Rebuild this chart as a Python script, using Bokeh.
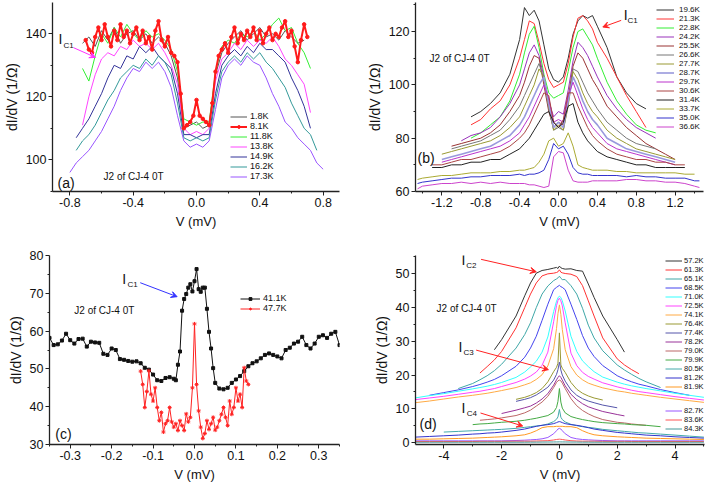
import numpy as np
from bokeh.plotting import figure
from bokeh.layouts import row, column
from bokeh.models import Legend, LegendItem, Label, Arrow, VeeHead, FixedTicker, Range1d
from bokeh.embed import file_html
from bokeh.resources import INLINE

N = None
FONT = "Liberation Sans"

# ======================= Panel (a) data =======================
a_x = [-0.80,-0.76,-0.72,-0.68,-0.64,-0.60,-0.56,-0.52,-0.48,-0.44,-0.40,-0.36,-0.32,-0.28,-0.24,-0.20,-0.16,-0.12,-0.08,-0.04,
       0.00,0.04,0.08,0.12,0.16,0.20,0.24,0.28,0.32,0.36,0.40,0.44,0.48,0.52,0.56,0.60,0.64,0.68,0.72,0.76,0.80]
a_x_red = [-0.70,-0.68,-0.66,-0.64,-0.62,-0.60,-0.58,-0.56,-0.54,-0.52,-0.50,-0.48,-0.46,-0.44,-0.42,-0.40,-0.38,-0.36,-0.34,-0.32,
           -0.30,-0.28,-0.26,-0.24,-0.22,-0.20,-0.18,-0.16,-0.14,-0.12,-0.10,-0.08,-0.06,-0.04,-0.02,0.00,0.02,0.04,0.06,0.08,
           0.10,0.12,0.14,0.16,0.18,0.20,0.22,0.24,0.26,0.28,0.30,0.32,0.34,0.36,0.38,0.40,0.42,0.44,0.46,0.48,0.50,0.52,0.54,
           0.56,0.58,0.60,0.62,0.64,0.66,0.68,0.70]
a_labels = ["1.8K", "8.1K", "11.8K", "13.8K", "14.9K", "16.2K", "17.3K"]
a_colors = ["#555555", "#ff1a1a", "#33ee33", "#ff44ff", "#333399", "#339999", "#9955ff"]
a_1p8K = [N,N,137,139,136,141,138,142,137,140,141,138,140,137,139,137,133,126,110,111,112,110,111,127,134,137,139,141,138,140,142,139,140,138,141,139,137,138,N,N,N]
a_8p1K = [138,135,134,139,142,138,143,139,136,141,138,143,139,141,137,140,142,138,141,137,139,135,141,144,138,136,139,134,133,131,
          121,110,111,112,114,119,114,113,112,111,118,128,133,135,137,134,139,142,137,140,138,141,139,142,138,141,137,140,142,138,
          140,139,142,144,139,141,136,131,138,143,139]
a_11p8K = [N,N,129,125,133,140,137,142,139,143,140,138,141,139,140,138,135,128,113,112,111,112,112,128,136,138,137,140,139,141,138,140,143,145,141,142,137,134,129,N,N]
a_13p8K = [N,N,111,120,127,132,134,133,136,135,138,136,137,135,137,134,130,124,110,108,109,108,110,125,132,134,137,135,138,136,138,137,139,136,132,130,127,124,115,N,N]
a_14p9K = [N,107,110,113,117,121,126,130,129,133,132,136,134,136,133,131,129,121,108,108,107,108,108,121,130,133,135,133,136,134,137,135,135,133,131,126,122,117,110,N,N]
a_16p2K = [N,103,106,108,111,115,119,122,126,128,130,129,132,130,133,131,127,118,107,106,107,106,107,119,128,131,133,131,134,132,134,131,129,126,123,118,114,110,108,103,N]
a_17p3K = [96,99,101,103,106,109,113,117,122,126,129,128,131,129,131,128,123,114,106,104,105,104,106,116,126,130,132,130,133,131,130,126,121,117,112,110,107,105,103,99,97]
a_xticks = [-0.8, -0.4, 0.0, 0.4, 0.8]
a_xtick_labels = ["-0.8", "-0.4", "0.0", "0.4", "0.8"]
a_xminor = [-0.6, -0.2, 0.2, 0.6]
a_yticks = [100, 120, 140]
a_ytick_labels = ["100", "120", "140"]
a_yminor = [90, 110, 130, 150]

# ======================= Panel (b) data =======================
b_x = [-1.45,-1.4,-1.3,-1.2,-1.1,-1.0,-0.9,-0.8,-0.7,-0.6,-0.5,-0.4,-0.35,-0.3,-0.25,-0.2,-0.15,-0.1,-0.05,0.0,
       0.05,0.1,0.15,0.2,0.25,0.3,0.35,0.4,0.5,0.6,0.7,0.8,0.9,1.0,1.1,1.2,1.3,1.4,1.45]
b_labels = ["19.6K","21.3K","22.8K","24.2K","25.5K","26.6K","27.7K","28.7K","29.7K","30.6K","31.4K","33.7K","35.0K","36.6K"]
b_colors = ["#333333","#ff3333","#33ee33","#9933bb","#993333","#777777","#999933","#9999dd","#bb33cc","#aa4444","#222222","#aaaa33","#3333cc","#cc44cc"]
b_19p6K = [N,N,N,N,N,N,88,90,93,97,104,117,129,126,128,124,115,106,102,101,103,110,119,124,126,125,126,122,114,103,97,93,91,N,N,N,N,N,N]
b_21p3K = [N,N,N,N,N,N,85,87,91,94,100,110,117,124,123,116,108,102,99,100,101,108,118,125,126,124,121,116,110,103,96,90,84,N,N,N,N,N,N]
b_22p8K = [N,N,N,N,N,N,80,82,85,88,94,104,112,119,122,114,104,97,95,96,97,105,114,120,121,118,115,110,101,94,89,85,83,82,N,N,N,N,N]
b_24p2K = [N,N,N,N,N,79,81,82,84,88,93,100,106,112,115,111,103,94,88,90,89,98,109,116,114,111,107,103,96,91,87,84,82,80,N,N,N,N,N]
b_25p5K = [N,N,N,N,77,78,79,80,82,85,90,96,101,107,111,110,100,90,84,86,85,95,107,112,110,106,102,99,92,88,84,81,78,76,74,72,N,N,N]
b_26p6K = [N,N,N,N,76,77,78,79,81,83,87,92,96,100,104,108,102,91,83,84,83,93,106,105,101,97,94,91,86,83,80,78,77,76,N,N,N,N,N]
b_27p7K = [N,N,N,74,75,76,77,78,79,81,84,88,92,96,100,106,103,92,83,85,83,92,105,102,97,93,90,88,83,80,78,76,75,74,73,72,N,N,N]
b_28p7K = [N,N,N,72,73,74,75,76,77,79,81,85,88,92,96,100,103,93,84,86,84,94,103,99,94,90,87,85,80,78,76,75,74,73,72,71,N,N,N]
b_29p7K = [N,N,N,71,72,73,74,75,76,77,79,82,85,88,92,96,100,95,86,87,86,96,101,96,91,87,84,82,78,76,75,74,73,72,71,70,N,N,N]
b_30p6K = [N,N,70,70,71,72,72,73,74,75,77,80,82,85,89,93,97,96,86,84,87,97,97,92,88,84,81,79,76,74,73,72,72,71,71,70,70,N,N]
b_31p4K = [N,N,69,69,70,70,71,71,72,72,74,76,78,80,83,86,89,90,86,84,86,92,93,86,82,79,77,75,73,72,71,70,70,69,69,69,69,N,N]
b_33p7K = [64.5,65,65.5,66,66,66.5,67,67,67,67.5,67.5,68,68,68.5,69,71,74,79,80,77,78,82,77,70,69,68.5,68,68,68,67.5,67.5,67,67,67,67,67,66.5,66.5,N]
b_35p0K = [63,63.5,64,64.5,65,65,65.5,65.5,66,66,66,66.5,66,66.5,66.5,67,68,72,78,76,77,74,69,67,66.5,66.5,66,66,66,66,65.5,66,65.5,65.5,65,65,65,64,64]
b_36p6K = [61,62,62.5,63,63,63.5,63,63.5,63,63.5,63,63,63,62.5,62.5,62,61.5,62,73,75,74.5,68,64,63.5,63.5,63.5,64,64,64,64,64.5,64.5,64,64,63.5,63.5,63,62,61.5]
b_xticks = [-1.2, -0.8, -0.4, 0.0, 0.4, 0.8, 1.2]
b_xtick_labels = ["-1.2", "-0.8", "-0.4", "0.0", "0.4", "0.8", "1.2"]
b_xminor = [-1.4, -1.0, -0.6, -0.2, 0.2, 0.6, 1.0, 1.4]
b_yticks = [60, 80, 100, 120]
b_ytick_labels = ["60", "80", "100", "120"]
b_yminor = [70, 90, 110, 130]

# ======================= Panel (c) data =======================
c_x_41 = [-0.35,-0.34,-0.33,-0.32,-0.31,-0.30,-0.29,-0.28,-0.27,-0.26,-0.25,-0.24,-0.23,-0.22,-0.21,-0.20,-0.19,-0.18,-0.17,-0.16,
          -0.15,-0.14,-0.13,-0.12,-0.11,-0.10,-0.09,-0.08,-0.07,-0.06,
          -0.05,-0.045,-0.04,-0.035,-0.03,-0.025,-0.02,-0.015,-0.01,-0.005,0.0,0.005,0.01,0.015,0.02,0.025,0.03,0.035,0.04,0.045,0.05,
          0.06,0.07,0.08,0.09,0.10,0.11,0.12,0.13,0.14,0.15,0.16,0.17,0.18,0.19,0.20,0.21,0.22,0.23,0.24,0.25,0.26,0.27,0.28,0.29,
          0.30,0.31,0.32,0.33,0.34,0.35]
c_41p1K = [58.2,56.3,56.5,57.5,59.3,57.6,56.7,57.9,58.0,55.9,57.2,57.0,56.9,54.0,53.7,55.4,55.0,52.6,52.4,52.1,
           51.9,52.0,51.5,50.3,49.8,48.5,47.0,46.8,47.6,47.8,
           47.4,47.0,51.1,54.6,65.4,68.5,69.8,71.5,72.4,70.5,73.2,76.4,71.1,70.4,71.5,71.5,65.9,59.8,55.4,50.2,46.3,
           44.8,44.6,45.0,46.3,47.2,48.1,49.4,50.7,51.5,52.0,52.8,53.7,54.1,53.7,53.3,52.8,55.0,55.6,56.7,57.2,58.5,56.3,55.4,56.7,
           58.5,58.9,58.2,59.3,59.8,56.3]
c_x_47 = [-0.130,-0.125,-0.120,-0.115,-0.110,-0.105,-0.100,-0.095,-0.090,-0.085,-0.080,-0.075,-0.070,-0.065,-0.060,-0.055,-0.050,
          -0.045,-0.040,-0.035,-0.030,-0.025,-0.020,-0.015,-0.010,-0.005,0.000,0.005,0.010,0.015,0.020,0.025,0.030,0.035,0.040,
          0.045,0.050,0.055,0.060,0.065,0.070,0.075,0.080,0.085,0.090,0.095,0.100,0.105,0.110,0.115,0.120,0.125,0.130]
c_47p7K = [49.4,45.9,39.8,44.0,49.5,43.3,41.5,45.0,39.8,36.3,38.5,33.3,35.5,36.3,39.8,36.0,34.6,35.5,33.7,36.3,35.0,33.7,38.1,
           36.0,37.2,45.0,61.9,45.9,38.9,34.6,31.6,32.9,36.3,34.0,35.5,37.2,33.8,34.6,36.3,38.0,39.8,37.2,35.0,41.5,38.0,39.8,
           45.0,41.5,43.3,39.8,50.3,46.8,45.9]
c_labels = ["41.1K", "47.7K"]
c_colors = ["#111111", "#ff2222"]
c_xticks = [-0.3, -0.2, -0.1, 0.0, 0.1, 0.2, 0.3]
c_xtick_labels = ["-0.3", "-0.2", "-0.1", "0.0", "0.1", "0.2", "0.3"]
c_xminor = [-0.35, -0.25, -0.15, -0.05, 0.05, 0.15, 0.25, 0.35]
c_yticks = [30, 40, 50, 60, 70, 80]
c_ytick_labels = ["30", "40", "50", "60", "70", "80"]
c_yminor = [35, 45, 55, 65, 75]

# ======================= Panel (d) data =======================
d_x = [-5,-4.5,-4,-3.5,-3,-2.75,-2.5,-2.25,-2,-1.5,-1.2,-1,-0.8,-0.6,-0.4,-0.2,-0.1,-0.05,0,0.05,0.1,0.2,0.4,0.6,0.8,1,1.2,1.5,
       2,2.25,2.5,2.75,3,3.5,4,4.5,5]
d_labels = ["57.2K","61.3K","65.1K","68.5K","71.0K","72.5K","74.1K","76.4K","77.4K","78.2K","79.0K","79.9K","80.5K","81.2K",
            "81.9K","82.7K","83.6K","84.3K"]
d_colors = ["#333333","#ff3333","#3fa7a7","#4444ee","#33ffff","#ff44ff","#ffaa44","#999933","#5555aa","#993399","#bb6666",
            "#44aa44","#44aaaa","#3333cc","#ff9922","#9955ff","#ff5555","#449999"]
d_57p2K = [N,N,N,N,N,N,N,27.5,30.5,37.5,43.5,47.3,50.2,51.0,51.3,51.7,51.9,51.6,52.3,51.8,51.6,51.4,51.5,51.0,50.8,47.0,43.0,37.5,30.5,26.8,N,N,N,N,N,N,N]
d_61p3K = [N,N,N,N,N,20.6,22.5,24.5,27.0,34.0,40.0,44.0,47.3,49.4,50.0,50.2,50.4,50.6,51.2,50.5,50.3,50.1,49.9,49.2,46.5,42.0,37.5,31.0,24.8,23.0,21.6,20.4,N,N,N,N,N]
d_65p1K = [N,N,N,16.0,17.5,18.6,19.8,21.3,23.2,28.0,32.0,35.5,40.0,44.0,46.4,48.0,48.5,48.8,49.3,48.7,48.3,48.3,46.5,44.0,39.8,34.8,31.0,27.2,23.0,21.5,20.2,19.0,18.0,16.3,N,N,N]
d_68p5K = [N,14.0,14.8,15.6,16.6,17.2,17.9,18.7,19.8,22.6,25.3,28.0,31.5,36.2,41.0,45.3,46.0,46.3,46.6,46.2,46.0,45.3,41.0,36.5,31.7,28.0,25.5,22.8,19.8,18.8,18.0,17.3,16.8,15.7,14.8,14.0,N]
d_71p0K = [13.2,13.9,14.5,15.2,15.9,16.3,16.7,17.2,17.8,19.3,20.9,22.4,24.1,26.8,31.3,38.8,41.9,42.9,43.4,43.0,42.0,39.0,31.5,27.0,24.2,22.5,21.0,19.4,17.9,17.3,16.8,16.4,16.0,15.3,14.6,14.0,13.4]
d_72p5K = [12.7,13.2,13.7,14.3,14.9,15.2,15.6,16.0,16.6,17.8,18.8,19.7,20.9,22.9,26.8,35.8,40.6,42.1,42.8,42.0,40.5,35.5,26.5,22.8,20.8,19.6,18.8,17.7,16.5,16.0,15.5,15.1,14.8,14.2,13.6,13.1,12.6]
d_74p1K = [11.8,12.3,12.9,13.5,14.0,14.3,14.6,15.0,15.4,16.3,17.1,17.7,18.7,20.1,22.7,27.8,33.8,38.2,40.8,38.0,33.5,27.5,22.5,20.0,18.6,17.6,17.0,16.2,15.3,15.0,14.6,14.3,14.0,13.4,12.9,12.4,11.9]
d_76p4K = [N,N,N,N,N,N,N,N,N,12.8,13.4,14.0,14.8,16.0,18.0,21.0,22.3,23.5,32.5,23.0,22.0,20.8,17.8,15.8,14.6,13.8,13.2,12.6,N,N,N,N,N,N,N,N,N]
d_77p4K = [N,N,N,N,N,N,N,N,N,12.2,12.8,13.3,14.1,15.2,16.4,18.5,20.2,21.6,23.8,21.5,20.0,18.2,15.6,14.0,13.0,12.3,11.8,11.1,10.3,N,N,N,N,N,N,N,N]
d_78p2K = [N,N,N,N,N,N,N,N,8.6,9.6,10.3,10.8,11.7,12.9,14.5,17.0,18.6,19.3,19.8,19.3,18.5,16.8,14.3,12.7,11.5,10.6,10.0,9.2,8.3,7.9,N,N,N,N,N,N,N]
d_79p0K = [N,N,N,N,N,6.6,6.8,7.0,7.3,8.0,8.8,9.6,10.8,12.0,13.7,16.3,17.8,18.3,18.5,18.3,17.6,16.0,13.0,10.9,9.5,8.5,7.7,6.8,6.0,5.8,5.5,5.3,5.1,N,N,N,N]
d_79p9K = [N,N,N,N,5.3,5.5,5.6,5.8,6.0,6.3,6.6,6.9,7.2,7.6,8.0,9.0,10.4,12.2,16.0,12.0,10.2,8.8,7.7,7.2,6.8,6.5,6.2,5.9,5.6,5.5,5.3,5.2,5.1,4.7,N,N,N]
d_80p5K = [N,N,3.1,3.3,3.5,3.6,3.7,3.8,3.9,4.2,4.5,4.7,4.9,5.1,5.5,6.2,6.9,7.6,9.8,7.5,6.8,6.1,5.4,5.0,4.7,4.5,4.3,3.9,3.5,3.3,3.1,2.9,2.8,2.5,2.2,1.9,1.6]
d_81p2K = [1.6,1.8,2.0,2.2,2.5,2.6,2.8,2.9,3.1,3.6,4.0,4.4,4.8,5.1,5.3,5.6,5.9,6.1,6.2,6.1,5.9,5.6,5.3,5.1,4.8,4.4,4.0,3.6,3.0,2.8,2.6,2.4,2.2,2.0,1.7,1.5,1.3]
d_81p9K = [1.0,1.0,1.1,1.2,1.3,1.4,1.5,1.6,1.7,2.0,2.3,2.8,3.5,4.4,4.7,4.7,4.8,4.8,4.8,4.8,4.8,4.7,4.7,4.4,3.5,2.8,2.3,2.0,1.7,1.6,1.5,1.4,1.3,1.2,1.1,1.0,0.9]
d_82p7K = [0.5,0.5,0.5,0.5,0.5,0.5,0.5,0.5,0.5,0.6,0.7,0.8,0.9,1.1,1.5,2.6,3.5,4.0,4.2,4.0,3.5,2.6,1.5,1.1,0.9,0.8,0.7,0.6,0.5,0.5,0.5,0.5,0.5,0.5,0.5,0.5,0.5]
d_83p6K = [0.3,0.3,0.3,0.3,0.3,0.35,0.35,0.35,0.35,0.4,0.4,0.4,0.45,0.5,0.55,0.75,0.9,0.95,1.0,0.95,0.9,0.75,0.55,0.45,0.4,0.4,0.4,0.35,0.35,0.35,0.3,0.3,0.3,0.3,0.3,0.3,0.3]
d_84p3K = [0.1,0.1,0.1,0.1,0.1,0.1,0.1,0.1,0.1,0.1,0.1,0.12,0.12,0.14,0.15,0.17,0.18,0.18,0.2,0.18,0.18,0.17,0.15,0.14,0.12,0.12,0.1,0.1,0.1,0.1,0.1,0.1,0.1,0.1,0.1,0.1,0.1]
d_xticks = [-4, -2, 0, 2, 4]
d_xtick_labels = ["-4", "-2", "0", "2", "4"]
d_xminor = [-5, -3, -1, 1, 3, 5]
d_yticks = [0, 10, 20, 30, 40, 50]
d_ytick_labels = ["0", "10", "20", "30", "40", "50"]
d_yminor = [5, 15, 25, 35, 45, 55]

note_text = "J2 of CJ-4 0T"
x_title = "V (mV)"
y_title = "dI/dV (1/\u03a9)"

# ======================= helpers =======================
def arr(v):
    return np.array(v, dtype=float)

def check(xs, series):
    for s in series:
        if len(s) != len(xs):
            raise ValueError("length mismatch %d vs %d" % (len(s), len(xs)))

def base_fig(xr, yr, w, h, bl, br, bt, bb):
    p = figure(width=w, height=h, x_range=Range1d(*xr), y_range=Range1d(*yr),
               output_backend="svg", toolbar_location=None,
               min_border_left=bl, min_border_right=br, min_border_top=bt, min_border_bottom=bb)
    p.outline_line_color = None
    p.xgrid.visible = False
    p.ygrid.visible = False
    return p

def style_axes(p, xt, xtl, xm, yt, ytl, ym):
    p.xaxis.ticker = FixedTicker(ticks=xt, minor_ticks=xm)
    p.yaxis.ticker = FixedTicker(ticks=yt, minor_ticks=ym)
    p.xaxis.major_label_overrides = dict(zip(xt, xtl))
    p.yaxis.major_label_overrides = dict(zip(yt, ytl))
    p.xaxis.axis_label = x_title
    p.yaxis.axis_label = y_title
    for ax in (p.xaxis[0], p.yaxis[0]):
        ax.axis_line_color = "#222222"
        ax.axis_line_width = 1.3
        ax.major_tick_line_color = "#222222"
        ax.minor_tick_line_color = "#222222"
        ax.major_tick_in = 0
        ax.major_tick_out = 4
        ax.minor_tick_in = 0
        ax.minor_tick_out = 2
        ax.major_label_text_font = FONT
        ax.major_label_text_font_size = "12.5px"
        ax.major_label_text_color = "#111111"
        ax.axis_label_text_font = FONT
        ax.axis_label_text_font_style = "normal"
        ax.axis_label_text_color = "#111111"
        ax.major_label_standoff = 2
        ax.axis_label_standoff = 4
    p.xaxis[0].axis_label_text_font_size = "13px"
    p.yaxis[0].axis_label_text_font_size = "14px"
    p.yaxis[0].axis_label_standoff = 3

def legend(p, items, loc, gw, standoff, font="9px", spacing=-1):
    lg = Legend(items=items, location=loc, orientation="vertical",
                label_text_font=FONT, label_text_font_size=font, label_text_color="#111111",
                label_height=7, glyph_height=7, glyph_width=gw, spacing=spacing,
                padding=0, margin=0, border_line_color=None, background_fill_alpha=0,
                label_standoff=standoff)
    p.add_layout(lg)

def note(p, x, y, text, size, align="left"):
    p.add_layout(Label(x=x, y=y, text=text, text_font=FONT, text_font_size=size,
                       text_baseline="middle", text_align=align, text_color="#111111"))

def ic_label(p, x, y, xs, ys, sub):
    note(p, x, y, "I", "14px")
    note(p, xs, ys, sub, "8px")

def arrow(p, x0, y0, x1, y1, color):
    p.add_layout(Arrow(end=VeeHead(size=6, line_color=color, fill_color=color, line_width=1),
                       x_start=x0, y_start=y0, x_end=x1, y_end=y1, line_color=color, line_width=1))

# ======================= Panel (a) =======================
pa = base_fig((-0.9097, 0.9033), (89.94, 149.94), 354, 245, 52, 15, 2, 54)
style_axes(pa, a_xticks, a_xtick_labels, a_xminor, a_yticks, a_ytick_labels, a_yminor)
a_series = [a_1p8K, a_8p1K, a_11p8K, a_13p8K, a_14p9K, a_16p2K, a_17p3K]
check(a_x, [s for s in a_series if s is not a_8p1K])
check(a_x_red, [a_8p1K])
a_rend = {}
for lab, ys, col in zip(a_labels, a_series, a_colors):
    if lab == "8.1K":
        continue
    a_rend[lab] = [pa.line(arr(a_x), arr(ys), line_color=col, line_width=1)]
r1 = pa.line(arr(a_x_red), arr(a_8p1K), line_color=a_colors[1], line_width=2)
r2 = pa.scatter(arr(a_x_red), arr(a_8p1K), marker="circle", size=3.5, color=a_colors[1])
a_rend["8.1K"] = [r1, r2]
legend(pa, [LegendItem(label=l, renderers=a_rend[l]) for l in a_labels], (178, 10), 17, 3, font="9px", spacing=-3)
ic_label(pa, -0.872, 138.5, -0.840, 136.4, "C1")
arrow(pa, -0.777, 135.6, -0.638, 132.5, "#ff33ff")
note(pa, -0.587, 94.85, note_text, "10px")
note(pa, -0.878, 92.6, "(a)", "14px")

# ======================= Panel (b) =======================
pb = base_fig((-1.471, 1.492), (60, 130.9), 354, 245, 61, 5, 0, 52)
style_axes(pb, b_xticks, b_xtick_labels, b_xminor, b_yticks, b_ytick_labels, b_yminor)
b_series = [b_19p6K, b_21p3K, b_22p8K, b_24p2K, b_25p5K, b_26p6K, b_27p7K, b_28p7K, b_29p7K, b_30p6K,
            b_31p4K, b_33p7K, b_35p0K, b_36p6K]
check(b_x, b_series)
b_items = []
for lab, ys, col in zip(b_labels, b_series, b_colors):
    w = 1.6 if lab == "28.7K" else 1
    r = pb.line(arr(b_x), arr(ys), line_color=col, line_width=w)
    b_items.append(LegendItem(label=lab, renderers=[r]))
legend(pb, b_items, (241, 60), 18, 5, font="8px", spacing=-1)
ic_label(pb, 0.672, 126.1, 0.710, 124.3, "C1")
arrow(pb, 0.645, 124.2, 0.456, 121.7, "#ff2222")
note(pb, -1.326, 110.0, note_text, "10px")
note(pb, -1.45, 72.6, "(b)", "14px")

# ======================= Panel (c) =======================
pc = base_fig((-0.35, 0.35), (30, 80), 354, 246, 49, 15, 7, 47)
style_axes(pc, c_xticks, c_xtick_labels, c_xminor, c_yticks, c_ytick_labels, c_yminor)
check(c_x_41, [c_41p1K])
check(c_x_47, [c_47p7K])
k1 = pc.line(arr(c_x_41), arr(c_41p1K), line_color=c_colors[0], line_width=1)
k2 = pc.scatter(arr(c_x_41), arr(c_41p1K), marker="square", size=3, color=c_colors[0])
q1 = pc.line(arr(c_x_47), arr(c_47p7K), line_color=c_colors[1], line_width=1)
q2 = pc.scatter(arr(c_x_47), arr(c_47p7K), marker="asterisk", size=4, line_color=c_colors[1], line_width=1)
legend(pc, [LegendItem(label=c_labels[0], renderers=[k1, k2]),
            LegendItem(label=c_labels[1], renderers=[q1, q2])], (191, 131), 20, 3, font="9px", spacing=-1)
ic_label(pc, -0.1745, 73.8, -0.162, 72.3, "C1")
arrow(pc, -0.131, 72.8, -0.042, 69.1, "#3333ff")
note(pc, -0.29, 65.5, note_text, "10px")
note(pc, -0.336, 32.7, "(c)", "14px")

# ======================= Panel (d) =======================
pd = base_fig((-4.979, 5.02), (-0.584, 55.44), 354, 246, 61, 4, 10, 44)
style_axes(pd, d_xticks, d_xtick_labels, d_xminor, d_yticks, d_ytick_labels, d_yminor)
d_series = [d_57p2K, d_61p3K, d_65p1K, d_68p5K, d_71p0K, d_72p5K, d_74p1K, d_76p4K, d_77p4K, d_78p2K,
            d_79p0K, d_79p9K, d_80p5K, d_81p2K, d_81p9K, d_82p7K, d_83p6K, d_84p3K]
check(d_x, d_series)
d_items = []
for lab, ys, col in zip(d_labels, d_series, d_colors):
    r = pd.line(arr(d_x), arr(ys), line_color=col, line_width=1)
    d_items.append(LegendItem(label=lab, renderers=[r]))
legend(pd, d_items[:15], (250, 53), 17, 2, font="7.5px", spacing=-1)
legend(pd, d_items[15:], (250, 11), 17, 2, font="7.5px", spacing=-1)
ic_label(pd, -3.39, 54.0, -3.22, 52.5, "C2")
arrow(pd, -2.71, 54.3, -0.80, 50.6, "#ff2222")
ic_label(pd, -3.49, 28.3, -3.32, 26.6, "C3")
arrow(pd, -2.88, 27.4, -0.38, 21.6, "#ff2222")
ic_label(pd, -3.39, 10.2, -3.21, 8.5, "C4")
arrow(pd, -2.73, 8.75, -1.27, 4.9, "#ff2222")
note(pd, -4.25, 39.8, note_text, "10px")
note(pd, -4.84, 5.5, "(d)", "14px")

layout = column(row(pa, pb), row(pc, pd))
open("out.html", "w").write(file_html(layout, INLINE))
